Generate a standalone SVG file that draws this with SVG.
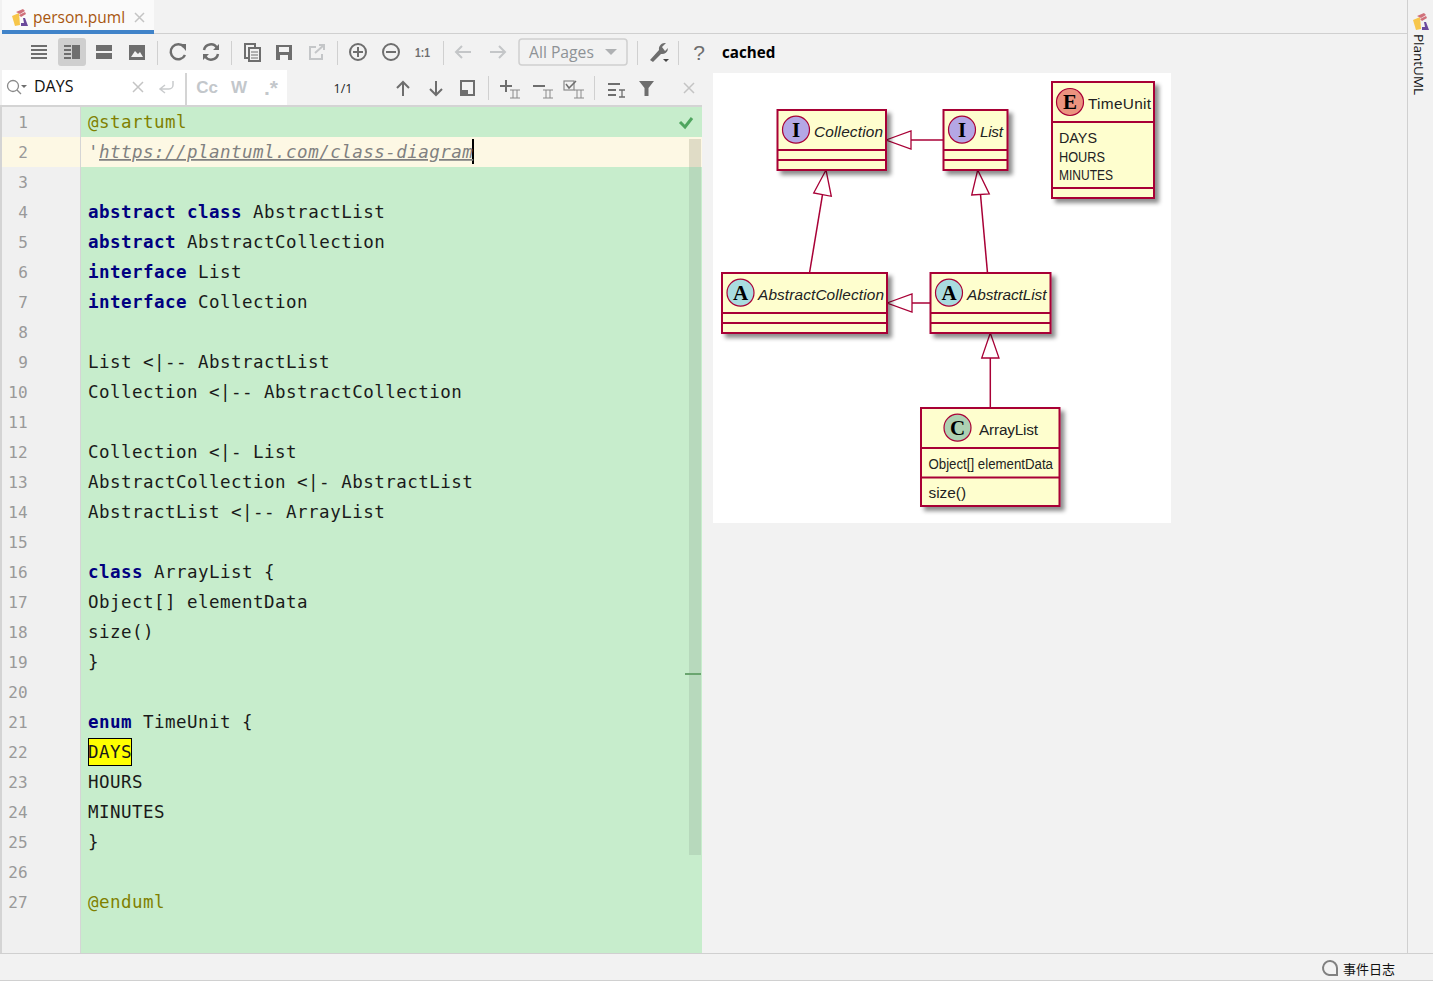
<svg xmlns="http://www.w3.org/2000/svg" width="1433" height="981" viewBox="0 0 1433 981">
<style>
.ui{font-family:"Open Sans","Liberation Sans",sans-serif}
.code{font-family:"DejaVu Sans Mono",monospace;font-size:17.5px;letter-spacing:.47px;fill:#1a1a1a}
.kw{font-weight:bold;fill:#000080}
.meta{fill:#808000}
.ln{font-family:"DejaVu Sans Mono",monospace;font-size:16px;fill:#999;text-anchor:middle}
.box{fill:#FEFECE;stroke:#A80036;stroke-width:2}
.sep{stroke:#A80036;stroke-width:2}
.uml{font-family:"Liberation Sans",sans-serif;font-size:15.4px;fill:#222}
.it{font-style:italic}
.spot{stroke:#A80036;stroke-width:1.2}
.sl{font-family:"Liberation Serif",serif;font-size:21px;font-weight:bold;fill:#000;text-anchor:middle}
.edge{fill:none;stroke:#A80036;stroke-width:1.500}
.head{fill:#fff;stroke:#A80036;stroke-width:1.300}
.ic{fill:none;stroke:#6e6e6e;stroke-width:2}
.icf{fill:#6e6e6e}
.ig{fill:none;stroke:#c4c6c8;stroke-width:2}
.igf{fill:#afb1b3}
.dv{stroke:#d0d0d0;stroke-width:1}
</style>
<defs>
<filter id="sh" x="-20%" y="-20%" width="150%" height="150%"><feDropShadow dx="4" dy="4" stdDeviation="2" flood-color="#000" flood-opacity=".45"/></filter>
<g id="cube"><path d="M0 7 7 4 8 16 3 17Z" fill="#f7c64a"/><path d="M4 3 11 0 13 2 8 5ZM7 6 13 3 14 5 9 8Z" fill="#d0707a"/><path d="M9 17H16L13 9 11 9 12 14 9 14Z" fill="#6b4a9c"/></g>
</defs>
<rect width="1433" height="981" fill="#f2f2f2"/>
<g id="tabbar">
<rect x="2" y="0" width="152" height="30" fill="#fafafa"/>
<rect x="2" y="30" width="152" height="4" fill="#4083c9"/>
<line x1="154" y1="33.500" x2="1407" y2="33.500" stroke="#d0d0d0"/>
<use href="#cube" x="12" y="9"/>
<text class="ui" x="33" y="23" font-size="15.500" fill="#a8560f">person.puml</text>
<path d="M135 13 144 22M144 13 135 22" stroke="#c4c4c4" stroke-width="1.500"/>
</g>
<g id="toolbar">
<rect x="58" y="38" width="28" height="28" rx="3" fill="#cfcfcf"/>
<path class="ic" d="M31 46H47M31 50H47M31 54H47M31 58H47"/>
<path class="ic" d="M64 46H71M64 50H71M64 54H71M64 58H71"/><rect class="icf" x="72" y="45" width="8" height="14"/>
<rect class="icf" x="96" y="45" width="16" height="6"/><rect class="icf" x="96" y="53" width="16" height="6"/>
<rect class="icf" x="129" y="45" width="16" height="15"/><path d="M131 57 135 51 138 54 140 52 143 57Z" fill="#f2f2f2"/>
<line class="dv" x1="157.500" y1="41" x2="157.500" y2="65"/>
<path d="M184 47A7.500 7.500 0 1 0 185 55" fill="none" stroke="#6e6e6e" stroke-width="2.500"/><path class="icf" d="M180 44 186 44 186 51Z"/>
<path d="M204 50A7 7 0 0 1 217 48M218 54A7 7 0 0 1 205 56" fill="none" stroke="#6e6e6e" stroke-width="2.500"/><path class="icf" d="M213 50 219 50 219 44ZM209 54 203 54 203 60Z"/>
<line class="dv" x1="231.500" y1="41" x2="231.500" y2="65"/>
<path class="ic" d="M249 58H245V44H255V47"/><rect x="249" y="48" width="11" height="13" fill="#f2f2f2" stroke="#6e6e6e" stroke-width="2"/><path d="M251 52H258M251 55H258M251 58H258" stroke="#6e6e6e" stroke-width="1"/>
<path class="icf" d="M276 45H292V60H276Z"/><rect x="279" y="47" width="10" height="5" fill="#f2f2f2"/><rect x="280" y="55" width="8" height="5" fill="#f2f2f2"/>
<path class="ig" d="M316 47H310V59H322V54M315 53 324 45M319 45H324V50"/>
<line class="dv" x1="337.500" y1="41" x2="337.500" y2="65"/>
<circle class="ic" cx="358" cy="52" r="8"/><path class="ic" d="M353 52H363M358 47V57"/>
<circle class="ic" cx="391" cy="52" r="8"/><path class="ic" d="M386 52H396"/>
<text x="415" y="57" font-family="Liberation Sans,sans-serif" font-size="13" font-weight="bold" fill="#6e6e6e" textLength="15" lengthAdjust="spacingAndGlyphs">1:1</text>
<line class="dv" x1="443.500" y1="41" x2="443.500" y2="65"/>
<path class="ig" d="M456 52H471M462 46 456 52 462 58"/>
<path class="ig" d="M490 52H505M499 46 505 52 499 58"/>
<rect x="519" y="39" width="108" height="26" rx="3" fill="#f2f2f2" stroke="#d0d0d0" stroke-width="1.500"/>
<text class="ui" x="529" y="58" font-size="15.700" fill="#8e9296">All Pages</text>
<path class="igf" d="M605 49H617L611 55Z"/>
<line class="dv" x1="637.500" y1="41" x2="637.500" y2="65"/>
<path d="M650 60 659 50A6 6 0 0 1 666 43L662 47 665 51 668 48A6 6 0 0 1 661 54L653 62Z" fill="#6e6e6e"/><path d="M663 59H669L666 62Z" fill="#444"/>
<line class="dv" x1="678.500" y1="41" x2="678.500" y2="65"/>
<text x="699" y="60" font-family="Liberation Sans,sans-serif" font-size="21" fill="#6e6e6e" text-anchor="middle">?</text>
<text class="ui" x="722" y="58" font-size="15.200" font-weight="bold" fill="#000">cached</text>
</g>
<g id="searchbar">
<rect x="2" y="70" width="285" height="35" fill="#fff"/>
<rect x="185" y="73" width="2" height="32" fill="#d4d4d4"/>
<circle cx="13" cy="86" r="5.500" fill="none" stroke="#8a8a8a" stroke-width="1.300"/><path d="M17 90 21 94" stroke="#8a8a8a" stroke-width="1.300"/><path class="icf" d="M21 85H27L24 88Z"/>
<text class="ui" x="34" y="92" font-size="16" fill="#111">DAYS</text>
<path d="M133 82 143 92M143 82 133 92" stroke="#c4c4c4" stroke-width="1.500"/>
<path d="M173 81V85A4 4 0 0 1 169 89H160M165 85 160 89 165 93" fill="none" stroke="#c9cbcd" stroke-width="1.500"/>
<text x="207" y="93" font-family="Liberation Sans,sans-serif" font-size="17" font-weight="bold" fill="#c3c7cb" text-anchor="middle">Cc</text>
<text x="239" y="93" font-family="Liberation Sans,sans-serif" font-size="17" font-weight="bold" fill="#c3c7cb" text-anchor="middle">W</text>
<text x="271" y="95" font-family="Liberation Sans,sans-serif" font-size="21" font-weight="bold" fill="#c3c7cb" text-anchor="middle">.*</text>
<text class="ui" x="343" y="93" font-size="12.500" fill="#222" text-anchor="middle">1/1</text>
<path class="ic" d="M403 96V82M397 88 403 82 409 88"/>
<path class="ic" d="M436 81V95M430 89 436 95 442 89"/>
<rect class="ic" x="461" y="81" width="13" height="14"/><rect class="icf" x="461" y="90" width="7" height="5"/>
<line class="dv" x1="488.500" y1="76" x2="488.500" y2="100"/>
<path class="ic" d="M500 86H512M506 80V92"/><path d="M510 90H520M510 98H520M513 90V98M517 90V98" stroke="#8a8a8a" stroke-width="1" fill="none"/>
<path class="ic" d="M533 86H545"/><path d="M543 90H553M543 98H553M546 90V98M550 90V98" stroke="#8a8a8a" stroke-width="1" fill="none"/>
<rect x="564" y="81" width="10" height="9" fill="none" stroke="#8a8a8a" stroke-width="1.200"/><path d="M566 84 569 88 576 81" fill="none" stroke="#6e6e6e" stroke-width="1.500"/><path d="M574 90H584M574 98H584M577 90V98M581 90V98" stroke="#8a8a8a" stroke-width="1" fill="none"/>
<line class="dv" x1="594.500" y1="76" x2="594.500" y2="100"/>
<path class="ic" d="M608 84H620M608 90H616M608 95H616"/><path d="M619 90H625M619 97H625M622 90V97" stroke="#6e6e6e" stroke-width="1.300"/>
<path class="icf" d="M639 81H654L648.500 88V96L644.500 96V88Z"/>
<path d="M684 83 694 93M694 83 684 93" stroke="#c4c4c4" stroke-width="1.500"/>
</g>
<g id="editor">
<rect x="0" y="105" width="702" height="2" fill="#d4d4d4"/>
<rect x="0" y="107" width="2" height="846" fill="#d4d4d4"/>
<rect x="2" y="107" width="78" height="846" fill="#f0f0f0"/>
<rect x="80" y="107" width="1" height="846" fill="#d5d5d5"/>
<rect x="81" y="107" width="621" height="846" fill="#c7edcc"/>
<rect x="2" y="137" width="78" height="30" fill="#fdf8e4"/>
<rect x="81" y="137" width="621" height="30" fill="#fdf8e4"/>
<rect x="689" y="139" width="12" height="716" fill="#b7d9bc"/>
<rect x="689" y="139" width="12" height="28" fill="#e0dcc6"/>
<rect x="685" y="673" width="16" height="2" fill="#6aa56f"/>
<path d="M680 122 685 127 692 118" fill="none" stroke="#4fa55f" stroke-width="3"/>
<rect x="88.500" y="738.500" width="43" height="27" fill="#ffff00" stroke="#000"/>
<rect x="472" y="139" width="2" height="25" fill="#000"/>
<g class="lines">
<text class="ln" x="23" y="128">1</text><text class="ln" x="23" y="158">2</text><text class="ln" x="23" y="188">3</text><text class="ln" x="23" y="218">4</text><text class="ln" x="23" y="248">5</text><text class="ln" x="23" y="278">6</text><text class="ln" x="23" y="308">7</text><text class="ln" x="23" y="338">8</text><text class="ln" x="23" y="368">9</text><text class="ln" x="18" y="398">10</text><text class="ln" x="18" y="428">11</text><text class="ln" x="18" y="458">12</text><text class="ln" x="18" y="488">13</text><text class="ln" x="18" y="518">14</text><text class="ln" x="18" y="548">15</text><text class="ln" x="18" y="578">16</text><text class="ln" x="18" y="608">17</text><text class="ln" x="18" y="638">18</text><text class="ln" x="18" y="668">19</text><text class="ln" x="18" y="698">20</text><text class="ln" x="18" y="728">21</text><text class="ln" x="18" y="758">22</text><text class="ln" x="18" y="788">23</text><text class="ln" x="18" y="818">24</text><text class="ln" x="18" y="848">25</text><text class="ln" x="18" y="878">26</text><text class="ln" x="18" y="908">27</text>
</g>
<g class="src" xml:space="preserve">
<text class="code meta" x="88" y="128">@startuml</text>
<text class="code" x="88" y="158" style="fill:#808080;font-style:italic">'<tspan text-decoration="underline">https://plantuml.com/class-diagram</tspan></text>
<text class="code" x="88" y="218"><tspan class="kw">abstract class</tspan> AbstractList</text>
<text class="code" x="88" y="248"><tspan class="kw">abstract</tspan> AbstractCollection</text>
<text class="code" x="88" y="278"><tspan class="kw">interface</tspan> List</text>
<text class="code" x="88" y="308"><tspan class="kw">interface</tspan> Collection</text>
<text class="code" x="88" y="368">List &lt;|-- AbstractList</text>
<text class="code" x="88" y="398">Collection &lt;|-- AbstractCollection</text>
<text class="code" x="88" y="458">Collection &lt;|- List</text>
<text class="code" x="88" y="488">AbstractCollection &lt;|- AbstractList</text>
<text class="code" x="88" y="518">AbstractList &lt;|-- ArrayList</text>
<text class="code" x="88" y="578"><tspan class="kw">class</tspan> ArrayList {</text>
<text class="code" x="88" y="608">Object[] elementData</text>
<text class="code" x="88" y="638">size()</text>
<text class="code" x="88" y="668">}</text>
<text class="code" x="88" y="728"><tspan class="kw">enum</tspan> TimeUnit {</text>
<text class="code" x="88" y="758">DAYS</text>
<text class="code" x="88" y="788">HOURS</text>
<text class="code" x="88" y="818">MINUTES</text>
<text class="code" x="88" y="848">}</text>
<text class="code meta" x="88" y="908">@enduml</text>
</g>
</g>
<rect id="canvas" x="713" y="73" width="458" height="450" fill="#fff"/>
<g id="connectors">
<path class="edge" d="M911 140H943.500"/><path class="head" d="M886 140 911 131V149Z"/>
<path class="edge" d="M822.500 194.700 809.500 273"/><path class="head" d="M826 170 813.700 193 831.300 196.300Z"/>
<path class="edge" d="M980.500 194.500 987.500 273"/><path class="head" d="M977.700 170 971.700 195 989.300 194Z"/>
<path class="edge" d="M912 303H930"/><path class="head" d="M887 303 912 294V312Z"/>
<path class="edge" d="M990.300 358V408"/><path class="head" d="M990.300 333 981.700 358H999Z"/>
</g>
<g id="Collection">
<rect class="box" filter="url(#sh)" x="777.500" y="110" width="108.500" height="60"/>
<path class="sep" d="M777.500 150H886M777.500 160H886"/>
<circle class="spot" cx="796" cy="129.700" r="13.500" fill="#B4A7E5"/><text class="sl" x="796" y="137">I</text>
<text class="uml it" x="814" y="137" textLength="69">Collection</text>
</g>
<g id="List">
<rect class="box" filter="url(#sh)" x="943.500" y="110" width="64" height="60"/>
<path class="sep" d="M943.500 150H1007.500M943.500 160H1007.500"/>
<circle class="spot" cx="962" cy="129.700" r="13.500" fill="#B4A7E5"/><text class="sl" x="962" y="137">I</text>
<text class="uml it" x="980" y="137" textLength="23">List</text>
</g>
<g id="TimeUnit">
<rect class="box" filter="url(#sh)" x="1052" y="82" width="102" height="116"/>
<path class="sep" d="M1052 122H1154M1052 188H1154"/>
<circle class="spot" cx="1070" cy="102" r="13.500" fill="#EB937F"/><text class="sl" x="1070" y="109">E</text>
<text class="uml" x="1088" y="108.500" textLength="63">TimeUnit</text>
<text class="uml" x="1059" y="143" font-size="14.500" textLength="38" lengthAdjust="spacingAndGlyphs">DAYS</text>
<text class="uml" x="1059" y="162" font-size="14.500" textLength="46" lengthAdjust="spacingAndGlyphs">HOURS</text>
<text class="uml" x="1059" y="180" font-size="14.500" textLength="54" lengthAdjust="spacingAndGlyphs">MINUTES</text>
</g>
<g id="AbstractCollection">
<rect class="box" filter="url(#sh)" x="722" y="273" width="165" height="60"/>
<path class="sep" d="M722 313H887M722 323H887"/>
<circle class="spot" cx="740.500" cy="292.700" r="13.500" fill="#A9DCDF"/><text class="sl" x="740.500" y="300">A</text>
<text class="uml it" x="758" y="300" textLength="126">AbstractCollection</text>
</g>
<g id="AbstractList">
<rect class="box" filter="url(#sh)" x="930.500" y="273" width="120" height="60"/>
<path class="sep" d="M930.500 313H1050.500M930.500 323H1050.500"/>
<circle class="spot" cx="949" cy="292.700" r="13.500" fill="#A9DCDF"/><text class="sl" x="949" y="300">A</text>
<text class="uml it" x="967" y="300" textLength="79.500">AbstractList</text>
</g>
<g id="ArrayList">
<rect class="box" filter="url(#sh)" x="921" y="408" width="138.500" height="98"/>
<path class="sep" d="M921 448H1059.500M921 477.500H1059.500"/>
<circle class="spot" cx="957.500" cy="427.700" r="13.500" fill="#ADD1B2"/><text class="sl" x="957.500" y="435">C</text>
<text class="uml" x="979" y="435" textLength="59">ArrayList</text>
<text class="uml" x="928.500" y="469" font-size="14" textLength="124.500" lengthAdjust="spacingAndGlyphs">Object[] elementData</text>
<text class="uml" x="928.500" y="498" font-size="14">size()</text>
</g>
<g id="sidebar">
<line x1="1407.500" y1="0" x2="1407.500" y2="953" stroke="#d0d0d0"/>
<use href="#cube" x="1413" y="13"/>
<text transform="translate(1414 34) rotate(90)" class="ui" font-size="13.500" fill="#111">PlantUML</text>
</g>
<g id="statusbar">
<rect x="0" y="953" width="1433" height="1" fill="#d0d0d0"/>
<rect x="0" y="980" width="1433" height="1" fill="#d0d0d0"/>
<path d="M1329 975A7 7 0 1 1 1337 968V975Z" fill="none" stroke="#808080" stroke-width="2"/>
<text x="1343" y="974" font-family="'Noto Sans CJK SC',sans-serif" font-size="13" fill="#111">事件日志</text>
</g>
</svg>
